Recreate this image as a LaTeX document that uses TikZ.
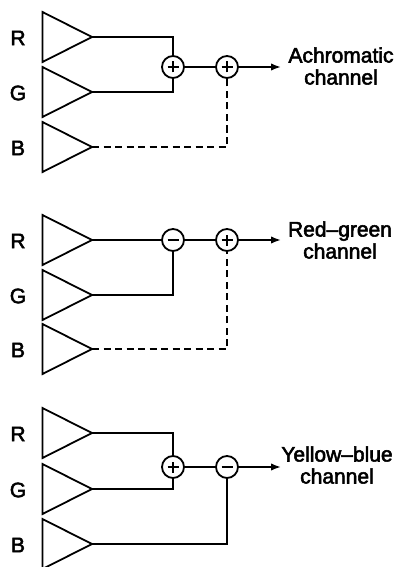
\documentclass[tikz,border=0pt]{standalone}
\usepackage{fontspec}
\setmainfont{Liberation Sans}
\newfontfamily\diagfont{Liberation Sans}[FakeBold=2.5]
\usetikzlibrary{arrows.meta}

\tikzset{
  x=1pt, y=-1pt,
  wire/.style={line width=1.8pt},
  feed/.style={wire, dash pattern=on 7pt off 4.5pt},
  ampshape/.style={line width=1.8pt, line join=miter},
  outarrow/.style={wire, -{Latex[length=10pt,width=7.5pt]}},
  sumnode/.style={circle, draw, line width=1.8pt, minimum size=22pt, inner sep=0pt},
  plusnode/.style={sumnode, path picture={
      \draw[line width=1.8pt]
        ([xshift=-5.5pt]path picture bounding box.center) -- ([xshift=5.5pt]path picture bounding box.center)
        ([yshift=-5.5pt]path picture bounding box.center) -- ([yshift=5.5pt]path picture bounding box.center);}},
  minusnode/.style={sumnode, path picture={
      \draw[line width=1.8pt]
        ([xshift=-5.5pt]path picture bounding box.center) -- ([xshift=5.5pt]path picture bounding box.center);}},
  inlabel/.style={font=\diagfont\fontsize{21}{22}\selectfont, inner sep=0pt},
  outlabel/.style={font=\diagfont\fontsize{21}{22}\selectfont, align=center, inner sep=0pt},
}

% amplifier triangle: apex y, apex name, input label name, input letter
\newcommand\amplifier[4]{%
  \draw[ampshape] (42.5,#1-25) -- (92,#1) -- (42.5,#1+25) -- cycle;
  \coordinate (#2) at (92,#1);
  \node[inlabel] (#3) at (18,#1+1) {#4};
}

\begin{document}
\begin{tikzpicture}
\useasboundingbox (0,0) rectangle (400,567);

% ---------- achromatic channel ----------
\amplifier{37}{r1}{lr1}{R}
\amplifier{92}{g1}{lg1}{G}
\amplifier{147}{b1}{lb1}{B}
\node[plusnode] (s1) at (173,67) {};
\node[plusnode] (t1) at (227,67) {};
\coordinate (o1) at (281,67);
\draw[wire] (r1) -| (s1);
\draw[wire] (g1) -| (s1);
\draw[wire] (s1) -- (t1);
\draw[feed] (b1) -| (t1);
\draw[outarrow] (t1) -- (o1);
\node[outlabel] (c1) at (341,66) {Achromatic\\channel};

% ---------- red-green channel ----------
\amplifier{240}{r2}{lr2}{R}
\amplifier{295}{g2}{lg2}{G}
\amplifier{349}{b2}{lb2}{B}
\node[minusnode] (s2) at (173,240) {};
\node[plusnode] (t2) at (227,240) {};
\coordinate (o2) at (281,240);
\draw[wire] (r2) -- (s2);
\draw[wire] (g2) -| (s2);
\draw[wire] (s2) -- (t2);
\draw[feed] (b2) -| (t2);
\draw[outarrow] (t2) -- (o2);
\node[outlabel] (c2) at (340,240) {Red–green\\channel};

% ---------- yellow-blue channel ----------
\amplifier{433}{r3}{lr3}{R}
\amplifier{489}{g3}{lg3}{G}
\amplifier{544}{b3}{lb3}{B}
\node[plusnode] (s3) at (173,467) {};
\node[minusnode] (t3) at (227,467) {};
\coordinate (o3) at (281,467);
\draw[wire] (r3) -| (s3);
\draw[wire] (g3) -| (s3);
\draw[wire] (s3) -- (t3);
\draw[wire] (b3) -| (t3);
\draw[outarrow] (t3) -- (o3);
\node[outlabel] (c3) at (337,465) {Yellow–blue\\channel};
\end{tikzpicture}
\end{document}
